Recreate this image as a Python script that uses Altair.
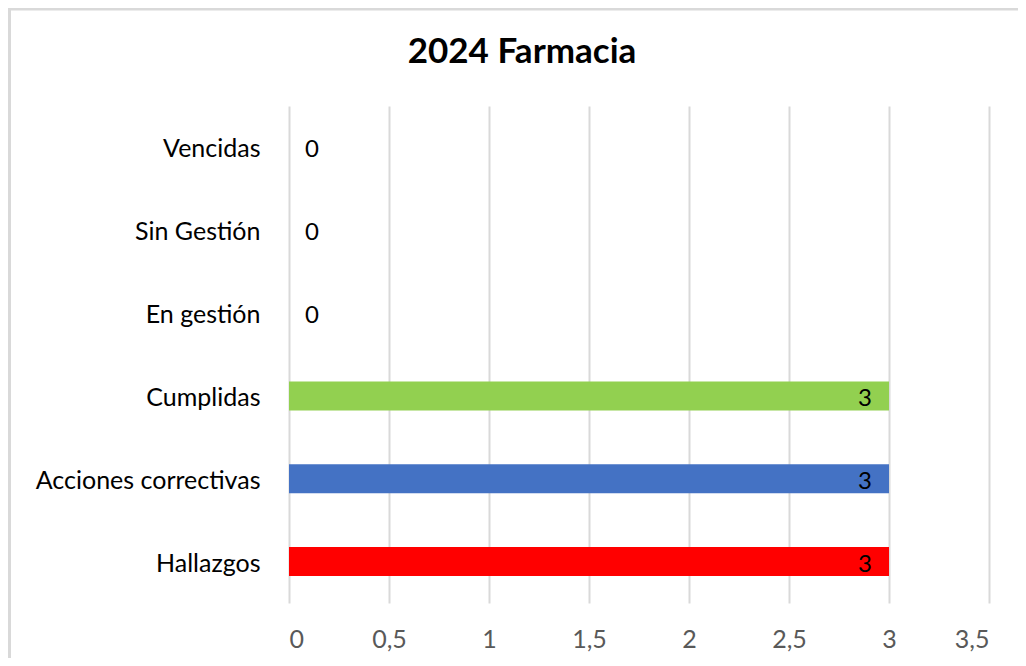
import altair as alt
import pandas as pd

categories = ["Vencidas", "Sin Gestión", "En gestión", "Cumplidas", "Acciones correctivas", "Hallazgos"]
values = [0, 0, 0, 3, 3, 3]
colors = ["#A5A5A5", "#ED7D31", "#FFC000", "#92D050", "#4472C4", "#FF0000"]
x_ticks = [0, 0.5, 1, 1.5, 2, 2.5, 3, 3.5]
title_text = "2024 Farmacia"

df = pd.DataFrame({"cat": categories, "val": values, "color": colors})

FONT = "Lato, Open Sans, sans-serif"

y_enc = alt.Y("cat:N", sort=categories, title=None,
              scale=alt.Scale(paddingInner=0.65, paddingOuter=0.325),
              axis=alt.Axis(domain=False, ticks=False, grid=False, labelPadding=29,
                            labelLimit=400, labelOffset=2,
                            labelFontSize=25, labelColor="#000000", labelFont=FONT))
x_enc = alt.X("val:Q", title=None,
              scale=alt.Scale(domain=[0, 3.5], nice=False),
              axis=alt.Axis(values=x_ticks, domain=False, ticks=False, grid=True,
                            gridColor="#d9d9d9", gridWidth=2,
                            labelExpr="replace(toString(datum.value), '.', ',')",
                            labelFontSize=25, labelColor="#595959", labelFont=FONT,
                            labelPadding=24))

bars = alt.Chart(df).mark_bar().encode(
    x=x_enc, y=y_enc,
    color=alt.Color("color:N", scale=None),
)

zero_labels = alt.Chart(df).transform_filter("datum.val == 0").mark_text(
    align="left", baseline="middle", dx=16, dy=3, fontSize=24, font=FONT, color="#000000"
).encode(x="val:Q", y=alt.Y("cat:N", sort=categories), text="val:Q")

pos_labels = alt.Chart(df).transform_filter("datum.val > 0").mark_text(
    align="right", baseline="middle", dx=-17, dy=3, fontSize=24, font=FONT, color="#000000"
).encode(x="val:Q", y=alt.Y("cat:N", sort=categories), text="val:Q")

border = alt.Chart(alt.Data(values=[{}])).mark_rect(
    fill=None, stroke="#d9d9d9", strokeWidth=3, clip=False
).encode(x=alt.value(-279.5), x2=alt.value(740), y=alt.value(-97), y2=alt.value(570))

title = alt.Chart(alt.Data(values=[{"t": title_text}])).mark_text(
    align="center", baseline="alphabetic", fontSize=35, fontWeight="bold",
    font=FONT, color="#000000"
).encode(x=alt.value(233), y=alt.value(-43), text="t:N")

chart = alt.layer(border, bars, zero_labels, pos_labels, title).properties(
    width=700, height=497,
    autosize=alt.AutoSizeParams(type="none"),
    padding={"left": 281, "top": 98, "right": 29, "bottom": 55},
).configure_view(stroke=None)

chart.save("out.html", embed_options={"renderer": "svg", "actions": False})
